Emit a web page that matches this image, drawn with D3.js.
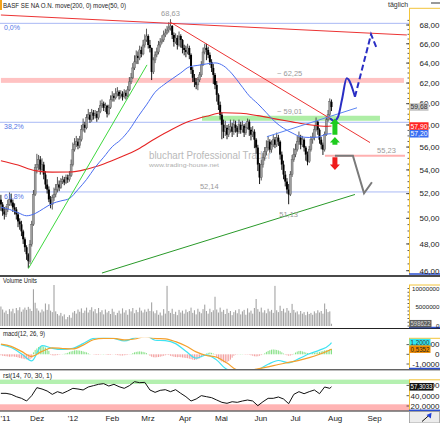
<!DOCTYPE html>
<html>
<head>
<meta charset="utf-8">
<script src="https://cdn.jsdelivr.net/npm/d3@7"></script>
<style>
  body { margin: 0; background: #fff; }
  svg  { display: block; font-family: "Liberation Sans", Arial, sans-serif; }
</style>
</head>
<body>
<svg id="chart" width="440" height="423"></svg>
<script>
// ---------- data ----------
const firstOpen = 51.5;
const closes = [
  51.11,50.55,50.31,50.71,51.11,51.52,51.27,50.87,50.71,50.31,
  49.75,49.52,48.97,48.36,47.75,47.22,46.70,47.98,49.52,51.93,
  54.20,54.46,54.89,54.03,54.46,53.60,52.76,52.34,51.52,51.11,
  51.68,51.93,52.34,52.76,52.51,53.01,53.18,52.93,53.35,53.18,
  53.52,54.46,55.77,56.21,56.48,56.12,56.66,57.56,58.02,57.74,
  58.67,58.95,58.48,59.14,58.86,59.04,58.67,59.23,59.80,59.99,
  59.61,59.80,59.04,59.61,60.37,60.75,60.56,60.94,61.14,60.75,
  60.94,60.66,61.04,60.75,61.33,62.12,62.52,63.51,64.12,64.74,
  64.53,65.35,64.94,65.87,66.40,66.82,65.87,65.56,63.11,64.32,
  64.84,65.14,65.87,66.19,66.40,66.93,67.14,67.46,67.68,67.89,
  66.93,66.19,66.61,65.87,66.82,66.40,65.56,65.35,65.14,65.56,
  64.84,63.31,62.52,62.12,61.82,62.32,62.81,63.82,65.14,65.56,
  65.35,64.84,64.12,63.51,62.81,61.82,60.85,59.89,58.95,58.02,
  57.38,57.74,57.11,57.56,57.84,57.38,58.02,57.74,57.38,58.02,
  57.56,57.93,57.29,57.74,58.30,57.56,57.11,57.38,56.66,55.95,
  54.46,53.35,54.46,55.07,55.59,55.95,56.48,55.77,56.21,56.66,
  56.21,56.84,56.48,55.33,54.46,53.60,53.01,52.34,51.93,53.60,
  54.89,55.33,55.77,56.48,56.84,56.21,56.66,55.95,55.33,54.72,
  55.77,56.66,56.84,57.56,58.30,57.56,56.66,56.21,55.77,57.11,
  58.48,58.95,60.18,59.68
];
const highs = [
  51.9,51.3,50.9,51.0,51.5,52.1,52.0,51.5,51.2,50.9,
  50.5,50.0,49.8,49.1,48.5,47.9,47.3,48.3,49.8,52.3,
  54.5,55.4,55.3,55.2,55.0,54.7,53.9,53.2,52.6,51.8,
  51.9,52.5,52.8,53.4,53.1,53.3,53.5,53.4,53.6,53.6,
  53.9,54.9,56.4,56.8,57.0,56.8,57.0,58.0,58.6,58.3,
  59.0,59.5,59.2,59.5,59.4,59.4,59.3,59.6,60.3,60.4,
  60.2,60.1,59.9,59.9,60.8,61.2,61.0,61.5,61.6,61.3,
  61.3,61.2,61.4,61.3,61.7,62.6,63.0,64.0,64.8,65.3,
  65.2,65.8,65.7,66.4,67.0,67.6,67.0,66.4,65.6,64.6,
  65.2,65.6,66.3,66.6,66.9,67.4,67.6,67.9,68.3,68.63,
  68.0,67.2,67.1,66.9,67.3,67.0,66.5,65.9,65.8,66.0,
  65.8,65.0,63.6,62.9,62.5,62.6,63.1,64.2,65.6,66.0,
  66.0,65.7,65.1,64.4,63.9,63.0,62.2,61.0,60.2,59.2,
  58.5,58.4,58.0,58.1,58.5,58.2,58.5,58.4,57.9,58.5,
  58.3,58.4,58.1,58.2,58.6,58.5,57.8,57.9,57.6,56.8,
  56.2,54.6,54.9,55.5,56.0,56.6,57.0,56.7,56.6,57.1,
  56.9,57.3,57.1,56.6,55.6,54.8,53.9,53.3,52.8,53.9,
  55.3,55.9,56.3,57.0,57.4,57.1,57.0,56.8,56.1,55.6,
  56.1,57.0,57.3,58.0,58.7,58.4,57.7,56.9,56.4,57.4,
  58.8,59.4,60.5,60.4
];
const lows = [
  50.6,50.2,49.9,50.1,50.5,51.0,51.0,50.5,50.3,49.9,
  49.3,49.1,48.6,48.0,47.4,46.8,46.2,46.5,47.8,49.4,
  51.8,53.7,54.0,53.6,53.8,53.2,52.4,52.0,51.3,50.8,
  50.7,51.4,51.7,52.1,52.2,52.4,52.8,52.7,52.8,52.9,
  53.0,53.4,54.3,55.6,56.0,55.8,55.9,56.5,57.4,57.3,
  57.6,58.5,58.2,58.3,58.5,58.6,58.3,58.5,59.1,59.6,
  59.3,59.2,58.7,58.9,59.5,60.2,60.2,60.4,60.7,60.4,
  60.5,60.3,60.5,60.4,60.6,61.2,61.9,62.4,63.3,63.9,
  63.9,64.3,64.6,64.8,65.6,66.2,65.5,65.1,62.3,62.9,
  64.0,64.6,64.9,65.6,66.0,66.2,66.7,67.0,67.2,67.4,
  66.5,65.7,66.0,65.4,65.7,65.6,65.0,64.8,64.6,64.9,
  64.4,62.9,62.1,61.6,61.4,61.3,62.1,62.6,63.7,64.9,
  64.3,64.5,63.8,63.1,61.9,61.4,60.2,59.4,58.5,56.7,
  56.8,57.0,56.7,56.9,57.3,56.9,57.1,57.3,56.9,57.2,
  57.2,57.3,56.9,57.1,57.6,57.0,56.6,56.9,55.9,55.4,
  53.9,52.8,53.1,54.2,54.8,55.3,55.7,55.5,55.5,56.0,
  55.9,56.0,56.1,54.9,54.0,53.2,52.6,52.0,51.13,51.8,
  53.4,54.7,55.1,55.6,56.2,55.8,56.0,55.6,54.8,54.4,
  54.6,55.6,56.3,56.6,57.4,57.1,56.3,55.8,55.3,55.6,
  57.0,58.3,58.8,59.3
];
// volume in millions of shares
const volumes = [
  5.2,4.4,3.6,4.1,3.2,4.5,3.9,4.6,3.4,4.8,
  4.2,5.0,3.8,4.4,4.9,4.3,5.1,4.6,4.0,9.8,
  6.2,4.7,4.1,3.6,4.4,3.9,6.0,4.3,5.8,4.1,
  3.7,11.0,3.9,3.2,2.8,3.5,2.6,3.1,1.8,2.4,
  2.9,2.2,3.6,4.0,3.3,4.4,3.8,4.7,3.5,4.1,
  4.9,3.6,4.3,5.0,3.9,4.5,3.4,4.8,3.7,4.2,
  3.1,4.4,3.6,4.0,3.2,4.6,3.8,2.9,3.5,4.1,
  3.3,4.7,3.6,4.2,3.0,4.5,3.9,4.8,3.4,4.3,
  3.7,4.9,4.1,3.6,4.4,3.8,4.6,4.0,6.3,3.9,
  3.4,4.2,3.0,3.6,2.8,4.5,3.3,10.7,4.0,3.5,
  4.6,3.2,3.8,2.9,4.3,3.6,4.1,3.3,4.4,3.7,
  4.0,4.9,3.5,4.2,3.1,4.6,3.8,3.4,4.5,5.7,
  4.0,3.3,4.6,3.7,4.2,7.8,4.4,3.6,4.9,3.8,
  4.3,3.2,4.6,3.5,4.0,2.9,3.7,4.2,3.4,4.5,
  3.1,3.9,4.3,3.0,4.7,3.6,4.1,3.3,4.8,7.2,
  4.5,3.8,4.9,3.6,4.2,3.4,4.6,3.9,4.3,3.5,
  10.7,4.2,3.7,5.4,4.0,4.6,3.6,4.8,4.1,3.5,
  5.9,4.3,3.6,3.9,3.1,4.0,3.3,3.7,2.9,3.8,
  3.2,3.5,3.0,3.9,3.4,4.2,3.6,4.0,3.3,6.0,
  4.5,3.7,3.9,0.598622
];
const ma200Days = [0,10,20,30,40,50,60,70,80,90,100,110,120,130,140,150,160,170,180,190,193];
const ma200 = [54.80,54.42,53.94,53.81,53.82,54.06,54.51,55.11,55.81,56.75,57.61,58.34,58.81,59.14,59.09,58.87,58.57,58.29,58.02,57.87,57.90];
const ma50Days = [0,5,10,15,20,25,30,35,40,45,50,55,60,65,70,75,80,85,90,95,100,105,110,115,120,125,130,135,140,145,150,155,160,165,170,175,180,185,190,193];
const ma50 = [50.88,50.71,50.45,50.20,50.38,50.79,51.19,51.40,51.60,52.34,53.18,54.22,55.10,56.03,56.66,57.56,58.76,59.89,61.10,61.82,
              62.42,63.01,63.62,63.77,63.92,64.02,63.72,62.91,61.82,60.75,59.99,59.14,58.30,57.70,57.27,56.93,56.86,56.89,57.16,57.20];
const macdDays = [0,6,12,18,24,30,36,42,48,54,60,66,72,78,84,90,96,102,108,114,120,126,132,138,144,150,156,162,168,174,180,186,192,193];
const macdLine = [1.0,0.7,0.05,-0.68,0.9,0.62,0.5,0.62,1.1,1.65,1.72,1.65,1.38,1.7,2.0,1.45,1.4,1.1,0.32,-0.40,
                  -0.05,-0.6,-1.55,-1.75,-1.8,-1.6,-1.03,-0.64,-0.88,-0.45,0.05,0.43,1.0,1.2];
const signalLine = [1.05,0.82,0.3,-0.22,0.3,0.67,0.6,0.55,0.95,1.5,1.65,1.65,1.48,1.58,1.8,1.65,1.6,1.3,0.85,0.25,
                    -0.12,-0.3,-0.9,-1.6,-1.65,-1.5,-1.3,-1.05,-0.84,-0.62,-0.35,0.0,0.45,0.5352];
const macdHist = [
  -0.10,-0.15,-0.18,-0.20,-0.22,-0.25,-0.24,-0.22,-0.25,-0.28,
  -0.32,-0.38,-0.42,-0.45,-0.50,-0.52,-0.55,-0.50,-0.40,0.20,
  0.45,0.60,0.75,0.85,0.85,0.80,0.70,0.55,0.35,-0.05,
  -0.10,-0.12,-0.10,-0.08,-0.05,-0.02,0.02,0.05,0.10,0.15,
  0.25,0.30,0.35,0.40,0.42,0.40,0.38,0.35,0.30,0.25,
  0.20,0.10,0.03,0.00,-0.02,-0.05,-0.06,-0.05,-0.03,0.02,
  0.03,-0.02,-0.06,-0.07,-0.05,-0.02,0.01,-0.05,-0.08,-0.10,
  -0.12,-0.12,-0.10,-0.08,-0.05,-0.02,0.03,0.12,0.20,0.25,
  0.28,0.30,0.28,0.25,0.20,0.12,0.02,-0.15,-0.25,-0.30,
  -0.32,-0.30,-0.28,-0.25,-0.20,-0.15,-0.10,-0.05,-0.08,-0.15,
  -0.20,-0.25,-0.28,-0.30,-0.28,-0.30,-0.33,-0.35,-0.38,-0.40,
  -0.45,-0.50,-0.55,-0.58,-0.55,-0.50,-0.42,-0.30,-0.15,0.00,
  0.08,0.15,0.18,0.15,0.08,-0.05,-0.30,-0.50,-0.65,-0.75,
  -0.82,-0.85,-0.80,-0.70,-0.55,-0.35,-0.15,-0.05,-0.03,0.02,
  0.03,0.02,-0.02,-0.04,-0.03,-0.05,-0.10,-0.15,-0.20,-0.22,
  -0.20,-0.15,-0.08,0.02,0.10,0.25,0.35,0.42,0.48,0.50,
  0.48,0.45,0.40,0.32,0.20,0.08,-0.05,-0.10,-0.15,-0.12,
  -0.08,0.05,0.18,0.28,0.35,0.35,0.30,0.25,0.18,0.12,
  0.10,0.08,0.12,0.15,0.18,0.20,0.25,0.30,0.35,0.40,
  0.42,0.45,0.50,0.55
];
const rsiDays = [0,3,6,9,12,15,18,21,24,27,30,33,36,39,42,45,48,51,54,57,60,63,66,69,72,75,78,81,84,87,90,93,96,99,102,105,
                 108,111,114,117,120,123,126,129,132,135,138,141,144,147,150,153,156,159,162,165,168,171,174,177,180,183,186,189,192,193];
const rsiValues = [44.6,44.6,42.6,38.1,34.9,29.7,40.1,55.6,53.0,49.1, 42.6,47.8,44.6,49.1,54.3,53.0,51.1,56.9,59.5,62.1,
                   63.4,58.8,62.1,57.5,54.3,59.5,67.2,65.3,65.9,51.1, 46.5,50.4,51.7,47.8,51.7,44.6,38.1,29.7,33.6,40.1,
                   38.1,36.2,31.6,27.1,25.2,28.3,27.1,29.7,31.6,29.7, 20.6,28.3,34.9,34.9,37.5,33.6,24.5,42.6,47.8,43.9,
                   47.8,51.1,43.9,56.9,54.3,57.3033];
const rsiBands = [{lo: 62.7, hi: 72, color: "#b4f0b0"}, {lo: 10, hi: 23.3, color: "#ffb4b4"}];

const priceTicks  = d3.range(46, 69, 2);
const volumeTicks = [0, 5, 10];
const macdTicks   = [1, 0, -1];
const rsiTicks    = [60, 40, 20];
const monthNames  = ["Jan","Feb","Mrz","Apr","Mai","Jun","Jul","Aug","Sep","Okt","Nov","Dez"];

const fibLevels = [68.18, 58.25, 52.14];
const fibLabels = ["0,0%", "38,2%", "61,8%"];
const zones = [
  {from: 0,     to: 235.3, lo: 62.02, hi: 62.51, level: 62.25, labelDay: 161.2, color: "#ffc2c2"},
  {from: 117.4, to: 221.3, lo: 58.39, hi: 58.86, level: 59.01, labelDay: 161.2, color: "#aeeea6"}
];
const supportLine = {from: 189.2, to: 235.9, level: 55.23, labelDay: 219.6};
const trendLines = [
  {pts: [[0, 69.09], [237, 66.93]],      color: "#ec3434"},
  {pts: [[99, 68.3], [215.5, 56.4]],     color: "#ec3434"},
  {pts: [[16, 46.15], [85.3, 63.82]],    color: "#3ed83e"},
  {pts: [[59, 45.83], [206.7, 51.93]],   color: "#2a9a2a"},
  {pts: [[155.3, 56.93], [207.9, 59.61]], color: "#5a84f2"}
];
const forecastUp     = [[192.1, 58.62], [194.5, 58.37], [196.8, 58.74], [199.1, 60.37], [201.9, 62.47], [206.7, 60.67]];
const forecastUpNext = [[206.7, 60.67], [216.1, 67.0], [219.4, 65.53]];
const forecastDown   = [[195, 55.23], [205.5, 55.23], [212, 52.03], [216.6, 52.95]];
const arrows = [
  {day: 195, from: 57.1, to: 58.6, color: "#1fcc1f"},
  {day: 195, from: 56.2, to: 56.9, color: "#1fcc1f"},
  {day: 195, from: 55.1, to: 54.0, color: "#ee1c1c"}
];
const priceNotes = [{day: 99, value: 68.63, dy: -3}, {day: 168, value: 51.13, dy: 7}];

// ---------- setup ----------
const de = (v, n) => v.toFixed(n).replace(".", ",");
const svg   = d3.select("#chart");
const axisX = 409;

const tradingDays = d3.timeDay.range(new Date(2011, 10, 8), new Date(2012, 11, 1))
  .filter(d => d.getDay() % 6 !== 0);

const x  = d3.scaleLinear().domain([0, 238.25]).range([0.9, axisX]);
const yP = d3.scaleLog().domain([46, 68]).range([270.7, 25]);
const yV = d3.scaleLinear().domain([0, 10]).range([326, 288.5]);
const yM = d3.scaleLinear().domain([-1, 0]).range([364, 354.3]);
const yR = d3.scaleLinear().domain([20, 40]).range([406, 395.7]);

svg.append("rect").attr("width", 440).attr("height", 423).attr("fill", "#fff");

const panels = [
  {id: "main", top: 0,     bottom: 275,   axTop: 8.3,   axBottom: 274},
  {id: "vol",  top: 285,   bottom: 327.5, axTop: 285,   axBottom: 327.5},
  {id: "macd", top: 337.8, bottom: 369,   axTop: 338.3, axBottom: 368.5},
  {id: "rsi",  top: 379.5, bottom: 410.5, axTop: 379.8, axBottom: 410.3}
];
const defs = svg.append("defs");
for (const p of panels) {
  defs.append("clipPath").attr("id", "clip-" + p.id)
    .append("rect").attr("x", 0).attr("y", p.top).attr("width", axisX).attr("height", p.bottom - p.top);
}
const layer = id => svg.append("g").attr("clip-path", `url(#clip-${id})`);

// ---------- main price panel ----------
const main = layer("main");

main.selectAll(".zone").data(zones).join("rect")
  .attr("x", d => x(d.from)).attr("width", d => x(d.to) - x(d.from))
  .attr("y", d => yP(d.hi)).attr("height", d => yP(d.lo) - yP(d.hi))
  .attr("fill", d => d.color);

main.selectAll(".fib").data(fibLevels).join("line")
  .attr("x1", 0).attr("x2", axisX).attr("y1", d => yP(d)).attr("y2", d => yP(d))
  .attr("stroke", "#a9b9f5").attr("stroke-width", 1);

main.append("line")
  .attr("x1", x(supportLine.from)).attr("x2", x(supportLine.to))
  .attr("y1", yP(supportLine.level)).attr("y2", yP(supportLine.level))
  .attr("stroke", "#ffb0b0").attr("stroke-width", 2.2);

// watermark
main.append("text").attr("x", 149).attr("y", 158.5).attr("font-size", 10.5)
  .attr("fill", "#b9b9b9").attr("textLength", 122).attr("lengthAdjust", "spacingAndGlyphs")
  .text("bluchart Professional Trader");
main.append("text").attr("x", 149).attr("y", 167).attr("font-size", 6.2)
  .attr("fill", "#b0b0b0").attr("textLength", 70).attr("lengthAdjust", "spacingAndGlyphs")
  .text("www.trading-house.net");

// candles
const candles = closes.map((c, i) => ({i, o: i ? closes[i - 1] : firstOpen, h: highs[i], l: lows[i], c}));
const gC = main.append("g");
gC.selectAll("line").data(candles).join("line")
  .attr("x1", d => x(d.i)).attr("x2", d => x(d.i))
  .attr("y1", d => yP(d.h)).attr("y2", d => yP(d.l))
  .attr("stroke", d => d.c >= d.o ? "#444" : "#000").attr("stroke-width", 0.9);
gC.selectAll("rect").data(candles).join("rect")
  .attr("x", d => x(d.i) - 1).attr("width", 2)
  .attr("y", d => yP(Math.max(d.o, d.c)))
  .attr("height", d => Math.max(1, Math.abs(yP(d.o) - yP(d.c))))
  .attr("fill", d => d.c >= d.o ? "#9c9c9c" : "#000")
  .attr("stroke", d => d.c >= d.o ? "#555" : "none").attr("stroke-width", 0.4);

// moving averages
const lineP = d3.line().x(d => x(d[0])).y(d => yP(d[1])).curve(d3.curveMonotoneX);
main.append("path").attr("d", lineP(ma200Days.map((d, i) => [d, ma200[i]])))
  .attr("fill", "none").attr("stroke", "#e62424").attr("stroke-width", 1.1);
main.append("path").attr("d", lineP(ma50Days.map((d, i) => [d, ma50[i]])))
  .attr("fill", "none").attr("stroke", "#4a6ef0").attr("stroke-width", 1);

// trend lines
const lineStraight = d3.line().x(d => x(d[0])).y(d => yP(d[1]));
main.selectAll(".trend").data(trendLines).join("path")
  .attr("d", d => lineStraight(d.pts)).attr("fill", "none")
  .attr("stroke", d => d.color).attr("stroke-width", 1);

// forecast paths
main.append("path").attr("d", lineStraight(forecastDown))
  .attr("fill", "none").attr("stroke", "#7a7a7a").attr("stroke-width", 2);
main.append("path").attr("d", lineP(forecastUp))
  .attr("fill", "none").attr("stroke", "#2a2ec4").attr("stroke-width", 2);
main.append("path").attr("d", lineStraight(forecastUpNext))
  .attr("fill", "none").attr("stroke", "#2a2ec4").attr("stroke-width", 2).attr("stroke-dasharray", "6,3");

// arrows
const arrowPath = a => {
  const cx = x(a.day), y0 = yP(a.from), y1 = yP(a.to);
  const dir = y1 < y0 ? -1 : 1, yb = y1 - dir * 5.5;
  return `M${cx - 2.5},${y0}L${cx - 2.5},${yb}L${cx - 5},${yb}L${cx},${y1}L${cx + 5},${yb}L${cx + 2.5},${yb}L${cx + 2.5},${y0}Z`;
};
main.selectAll(".arrow").data(arrows).join("path")
  .attr("d", arrowPath).attr("fill", d => d.color);

// labels on the price chart
const note = main.append("g").attr("font-size", 7.5).attr("fill", "#9a9a9a");
note.selectAll(".pn").data(priceNotes).join("text")
  .attr("x", d => x(d.day)).attr("y", d => yP(d.value) + d.dy).attr("text-anchor", "middle")
  .attr("dominant-baseline", d => d.dy < 0 ? "auto" : "hanging").text(d => de(d.value, 2));
note.selectAll(".zl").data(zones).join("text")
  .attr("x", d => x(d.labelDay)).attr("y", d => yP(d.hi) - 2).text(d => "~ " + de(d.level, 2));
note.append("text").attr("x", x(supportLine.labelDay)).attr("y", yP(supportLine.level) - 3)
  .text(de(supportLine.level, 2));
note.append("text").attr("x", x(116.2)).attr("y", yP(fibLevels[2]) - 2.5).text(de(fibLevels[2], 2));
main.append("g").attr("font-size", 7).attr("fill", "#5575e6")
  .selectAll("text").data(fibLevels).join("text")
  .attr("x", 4).attr("y", d => yP(d) + 7).text((d, i) => fibLabels[i]);

// ---------- volume panel ----------
const vol = layer("vol");
vol.selectAll("rect").data(volumes).join("rect")
  .attr("x", (d, i) => x(i) - 0.55).attr("width", 1.1)
  .attr("y", d => yV(d)).attr("height", d => yV(0) - yV(d))
  .attr("fill", "#a4a4a4");

// ---------- macd panel ----------
const macd = layer("macd");
macd.selectAll("rect").data(macdHist).join("rect")
  .attr("x", (d, i) => x(i) - 0.5).attr("width", 1)
  .attr("y", d => Math.min(yM(d), yM(0))).attr("height", d => Math.abs(yM(d) - yM(0)))
  .attr("fill", d => d >= 0 ? "#86e086" : "#f29c9c");
const lineM = d3.line().x(d => x(d[0])).y(d => yM(d[1])).curve(d3.curveMonotoneX);
macd.append("path").attr("d", lineM(macdDays.map((d, i) => [d, macdLine[i]])))
  .attr("fill", "none").attr("stroke", "#3fe3f2").attr("stroke-width", 1.2);
macd.append("path").attr("d", lineM(macdDays.map((d, i) => [d, signalLine[i]])))
  .attr("fill", "none").attr("stroke", "#f4a02c").attr("stroke-width", 1.2);

// ---------- rsi panel ----------
const rsi = layer("rsi");
rsi.selectAll("rect").data(rsiBands).join("rect")
  .attr("x", 0).attr("width", axisX)
  .attr("y", d => yR(d.hi)).attr("height", d => yR(d.lo) - yR(d.hi))
  .attr("fill", d => d.color);
rsi.append("path")
  .attr("d", d3.line().x(d => x(d[0])).y(d => yR(d[1]))(rsiDays.map((d, i) => [d, rsiValues[i]])))
  .attr("fill", "none").attr("stroke", "#111").attr("stroke-width", 1);

// ---------- separators & titles ----------
svg.append("rect").attr("x", 0).attr("y", 275).attr("width", 440).attr("height", 2).attr("fill", "#4a4a4a");
svg.selectAll(".sep").data([328.5, 369.8, 411]).join("line")
  .attr("x1", 0).attr("x2", 440).attr("y1", d => d).attr("y2", d => d)
  .attr("stroke", "#222").attr("stroke-width", 1);

const titles = [
  {t: "BASF SE NA O.N. move(200, 0) move(50, 0)", y: 7.5, w: 123},
  {t: "Volume Units", y: 283, w: 34},
  {t: "macd(12, 26, 9)", y: 336, w: 42},
  {t: "rsi(14, 70, 30, 1)", y: 377.5, w: 49}
];
svg.selectAll(".title").data(titles).join("text")
  .attr("x", 3).attr("y", d => d.y).attr("font-size", 7).attr("fill", "#222")
  .attr("textLength", d => d.w).attr("lengthAdjust", "spacingAndGlyphs").text(d => d.t);
svg.append("rect").attr("x", 0).attr("y", 0).attr("width", 2).attr("height", 10).attr("fill", "#f2a31a");
svg.append("text").attr("x", 388).attr("y", 7).attr("font-size", 7).attr("fill", "#333").text("täglich");
svg.append("rect").attr("x", 431).attr("y", 2).attr("width", 9).attr("height", 2).attr("fill", "#999");

// ---------- axis columns ----------
const axisG = svg.append("g");
for (const p of panels) {
  axisG.append("line").attr("x1", axisX + 0.5).attr("x2", axisX + 0.5).attr("y1", p.axTop).attr("y2", p.axBottom)
    .attr("stroke", "#f2c43a");
  axisG.append("line").attr("x1", axisX).attr("x2", 440).attr("y1", p.axTop).attr("y2", p.axTop)
    .attr("stroke", "#f2c43a");
  axisG.append("line").attr("x1", axisX).attr("x2", 440).attr("y1", p.axBottom).attr("y2", p.axBottom)
    .attr("stroke", "#2b4fd0").attr("stroke-width", 1.5);
}
const tickMarks = (vals, scale, len) => axisG.append("g").selectAll("line").data(vals).join("line")
  .attr("x1", axisX - len).attr("x2", axisX).attr("y1", d => scale(d)).attr("y2", d => scale(d))
  .attr("stroke", "#333").attr("stroke-width", 0.8);
const tickLabels = (vals, scale, fmt, size) => axisG.append("g").attr("font-size", size).attr("fill", "#222")
  .selectAll("text").data(vals).join("text")
  .attr("x", 439.5).attr("text-anchor", "end").attr("y", d => scale(d)).attr("dy", "0.35em").text(fmt);

tickMarks(d3.range(46, 68.6, 0.5), yP, 1.5);
tickMarks(priceTicks, yP, 3);
tickLabels(priceTicks, yP, d => de(d, 2), 8);
tickMarks(d3.range(0, 10.5, 1), yV, 1.5);
tickLabels(volumeTicks, yV, d => d3.format("d")(d * 1e6), 6.2);
tickMarks(macdTicks, yM, 2.5);
tickLabels(macdTicks, yM, d => d === 0 ? "0" : de(d, 4), 8);
tickMarks(rsiTicks, yR, 2.5);
tickLabels(rsiTicks, yR, d => de(d, 4), 8);

// last-value boxes
const lastBoxes = [
  {y: yP(closes[closes.length - 1]), t: de(closes[closes.length - 1], 2), fill: "#c6c6c6", color: "#333", w: 19},
  {y: yP(ma200[ma200.length - 1]), t: de(ma200[ma200.length - 1], 2), fill: "#ff2222", color: "#fff", w: 19},
  {y: yP(ma50[ma50.length - 1]), t: de(ma50[ma50.length - 1], 2), fill: "#3a6ef2", color: "#fff", w: 19},
  {y: yV(volumes[volumes.length - 1]), t: d3.format("d")(volumes[volumes.length - 1] * 1e6), fill: "#5e5e5e", color: "#ddd", w: 22},
  {y: yM(macdLine[macdLine.length - 1]), t: de(macdLine[macdLine.length - 1], 4), fill: "#2fe6f2", color: "#333", w: 21},
  {y: yM(signalLine[signalLine.length - 1]), t: de(signalLine[signalLine.length - 1], 4), fill: "#f08c00", color: "#222", w: 21},
  {y: yR(rsiValues[rsiValues.length - 1]), t: de(rsiValues[rsiValues.length - 1], 4), fill: "#111", color: "#fff", w: 24}
];
const box = axisG.selectAll(".box").data(lastBoxes).join("g")
  .attr("transform", d => `translate(${axisX + 0.5},${d.y})`);
box.append("rect").attr("y", -3.8).attr("height", 7.6).attr("width", d => d.w).attr("fill", d => d.fill);
box.append("text").attr("x", 1).attr("dy", "0.35em").attr("font-size", 7).attr("fill", d => d.color)
  .attr("textLength", d => d.w - 2).attr("lengthAdjust", "spacingAndGlyphs").text(d => d.t);

// ---------- date axis ----------
const monthStarts = tradingDays.map((d, i) => ({d, i}))
  .filter(({d, i}) => i > 0 && d.getMonth() !== tradingDays[i - 1].getMonth() && x(i) < 395);
const dateLabels = [{x: 0.5, t: "'" + String(tradingDays[0].getFullYear()).slice(2)}]
  .concat(monthStarts.map(({d, i}) => ({
    x: x(i),
    t: d.getMonth() === 0 ? "'" + String(d.getFullYear()).slice(2) : monthNames[d.getMonth()]
  })));
svg.append("g").attr("font-size", 8).attr("fill", "#222")
  .selectAll("text").data(dateLabels).join("text")
  .attr("x", d => d.x).attr("y", 420.5).text(d => d.t);

// corner button
svg.append("rect").attr("x", axisX + 0.5).attr("y", 411.5).attr("width", 30).attr("height", 11.5)
  .attr("fill", "#ececec").attr("stroke", "#9a9a9a").attr("stroke-width", 0.8);
svg.append("line").attr("x1", 422).attr("y1", 421.5).attr("x2", 430).attr("y2", 414.5)
  .attr("stroke", "#111").attr("stroke-width", 1);
svg.append("path").attr("d", "M426.5,415 L431.5,412.8 L430.8,418.6 Z").attr("fill", "#1f3fd6");
</script>
</body>
</html>
